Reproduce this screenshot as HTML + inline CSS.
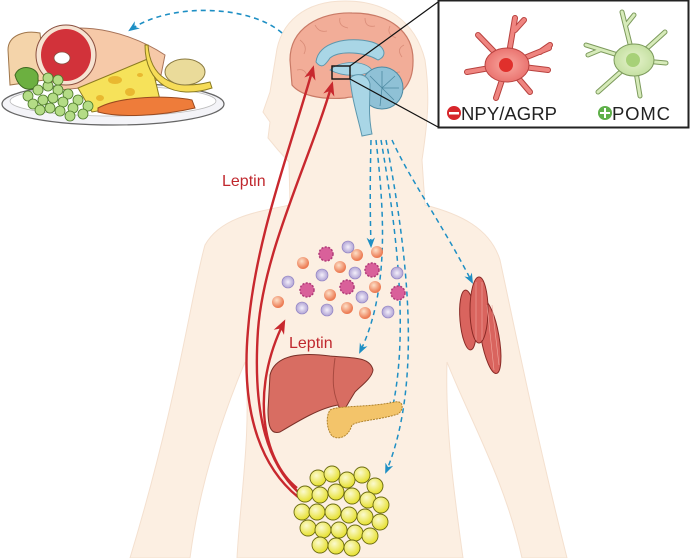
<!DOCTYPE html>
<html><head><meta charset="utf-8"><style>
html,body{margin:0;padding:0;background:#fff;}
svg{display:block;}
text{font-family:"Liberation Sans",Arial,sans-serif;}
</style></head><body>
<svg width="690" height="558" viewBox="0 0 690 558" xmlns="http://www.w3.org/2000/svg">
<defs>
<marker id="ab" viewBox="0 0 10 10" refX="8" refY="5" markerWidth="7" markerHeight="7" orient="auto"><path d="M0,1 L10,5 L0,9 L3,5 Z" fill="#1e8fc4"/></marker>
<marker id="ar" viewBox="0 0 10 10" refX="8" refY="5" markerWidth="6" markerHeight="6" orient="auto"><path d="M0,1 L10,5 L0,9 L3,5 Z" fill="#c8282e"/></marker>
<radialGradient id="og" cx="0.4" cy="0.35" r="0.6"><stop offset="0" stop-color="#fde0c8"/><stop offset="1" stop-color="#ec7a52"/></radialGradient>
<radialGradient id="pg" cx="0.5" cy="0.5" r="0.55"><stop offset="0" stop-color="#f4f0fb"/><stop offset="1" stop-color="#a99bd0"/></radialGradient>
<radialGradient id="yg" cx="0.4" cy="0.35" r="0.6"><stop offset="0" stop-color="#fbfad0"/><stop offset="1" stop-color="#e8e23a"/></radialGradient>
<radialGradient id="rn" cx="0.5" cy="0.5" r="0.5"><stop offset="0" stop-color="#f9a9a0"/><stop offset="1" stop-color="#ea7470"/></radialGradient>
<radialGradient id="gn" cx="0.5" cy="0.5" r="0.5"><stop offset="0" stop-color="#e6f3cc"/><stop offset="1" stop-color="#c5e0a2"/></radialGradient>
</defs>

<!-- body -->
<path d="M345 1 C305 1 280 22 276 55 L270 92 L263 112 L270 122 L268 138 L278 150 L289 162 L290 205
 C255 212 220 218 205 245 C192 290 178 400 130 558 L190 558 C200 480 225 410 245 362
 C252 430 240 500 237 558 L463 558 C455 500 445 430 447 362 C470 420 505 480 522 558 L567 558
 C535 430 515 330 500 260 C490 228 460 214 425 205 L422 160 C428 120 430 95 425 60 C415 20 385 1 345 1 Z"
 fill="#fcefe2" stroke="#f4e0cf" stroke-width="1"/>

<!-- brain -->
<path d="M290 60 C290 28 320 12 352 13 C390 13 414 32 413 62 C413 85 400 98 380 100 C365 100 355 95 345 98 C320 100 300 95 292 85 Z" fill="#f2ad98" stroke="#c97a66" stroke-width="1.2"/>
<g fill="none" stroke="#d98c78" stroke-width="0.8">
<path d="M300 40 q8 6 4 14 M315 25 q4 8 12 6 M340 18 q-2 8 8 10 M365 18 q0 10 10 8 M390 26 q-4 8 6 12 M404 45 q-8 4 -2 12 M297 70 q8 -2 10 6 M400 72 q-8 0 -8 8"/>
</g>
<path d="M316 62 C318 42 348 36 372 42 C385 46 388 56 378 60 C365 52 340 50 330 58 C326 64 322 70 316 62 Z" fill="#a9d6e6" stroke="#5d97ad" stroke-width="1"/>
<path d="M330 70 C340 60 365 60 372 70 C365 76 345 78 330 70 Z" fill="#a9d6e6" stroke="#5d97ad" stroke-width="0.8"/>
<circle cx="382" cy="88" r="21" fill="#8fc1d6" stroke="#4e8aa2" stroke-width="1"/>
<g stroke="#4e8aa2" stroke-width="0.8"><path d="M382 88 l-12 -12 M382 88 l0 -17 M382 88 l13 -12 M382 88 l17 0 M382 88 l12 12 M382 88 l-2 18"/></g>
<path d="M350 78 C356 72 368 74 370 84 C370 100 368 115 372 134 L362 136 C358 118 352 100 350 78 Z" fill="#a9d6e6" stroke="#5d97ad" stroke-width="1"/>
<rect x="332" y="66" width="18" height="13" fill="none" stroke="#111" stroke-width="1.4"/>
<line x1="350" y1="66" x2="438" y2="2" stroke="#111" stroke-width="1.2"/>
<line x1="350" y1="79" x2="438" y2="127" stroke="#111" stroke-width="1.2"/>

<!-- inset -->
<rect x="438.5" y="0.5" width="250" height="127" fill="#fff" stroke="#222" stroke-width="2"/>
<g stroke-linecap="round" fill="none">
<g stroke="#b8423f" stroke-width="6"><path d="M507 65 L478 35 M507 65 L515 18 M515 30 L524 20 M507 65 L549 48 M540 52 L550 45 M507 65 L548 70 M507 65 L467 72 M507 65 L496 98 M507 65 L530 92"/></g>
<g stroke="#ef8580" stroke-width="4"><path d="M507 65 L478 35 M507 65 L515 18 M515 30 L524 20 M507 65 L549 48 M540 52 L550 45 M507 65 L548 70 M507 65 L467 72 M507 65 L496 98 M507 65 L530 92"/></g>
<g stroke="#7c9a5c" stroke-width="5"><path d="M634 60 L622 12 M626 25 L634 15 M634 60 L665 32 M634 60 L666 63 M634 60 L586 45 M600 50 L588 55 M634 60 L598 92 M634 60 L640 96"/></g>
<g stroke="#d7ebba" stroke-width="3"><path d="M634 60 L622 12 M626 25 L634 15 M634 60 L665 32 M634 60 L666 63 M634 60 L586 45 M600 50 L588 55 M634 60 L598 92 M634 60 L640 96"/></g>
</g>
<ellipse cx="507" cy="65" rx="22" ry="17" fill="url(#rn)" stroke="#b8423f" stroke-width="1"/>
<circle cx="506" cy="65" r="7" fill="#e0302c"/>
<ellipse cx="634" cy="60" rx="20" ry="16" fill="url(#gn)" stroke="#7c9a5c" stroke-width="1"/>
<circle cx="633" cy="60" r="7" fill="#a7d178"/>
<circle cx="454" cy="113" r="7" fill="#d7262b"/><rect x="449" y="112" width="10" height="2.5" fill="#fff"/>
<text x="461" y="120" font-size="18.5" fill="#222" textLength="96">NPY/AGRP</text>
<circle cx="605" cy="113" r="7" fill="#5fb04a"/><path d="M600 113 h10 M605 108 v10" stroke="#fff" stroke-width="2"/>
<text x="612" y="120" font-size="18.5" fill="#222" textLength="58">POMC</text>

<!-- food -->
<ellipse cx="113" cy="104" rx="111" ry="21" fill="#f4f4f8" stroke="#666" stroke-width="1.2"/>
<ellipse cx="113" cy="101" rx="103" ry="15" fill="#fff" stroke="#bbb" stroke-width="0.8"/>
<path d="M8 50 C8 35 25 30 40 33 L45 80 L10 85 Z" fill="#f4d4aa" stroke="#a0764a" stroke-width="1"/>
<path d="M40 40 C60 20 120 25 165 55 L160 80 L60 90 Z" fill="#f6c9a8" stroke="#a8745a" stroke-width="1"/>
<ellipse cx="66" cy="55" rx="30" ry="30" fill="#f6e3d2" stroke="#8a5040" stroke-width="1"/>
<ellipse cx="66" cy="55" rx="25" ry="26" fill="#d2323a"/>
<ellipse cx="62" cy="58" rx="8" ry="6" fill="#fff" stroke="#8a5040" stroke-width="0.8"/>
<path d="M78 88 L150 58 L160 100 L92 112 Z" fill="#f6e25a" stroke="#8a7a20" stroke-width="1"/>
<g fill="#e9b830"><ellipse cx="115" cy="80" rx="7" ry="4"/><ellipse cx="130" cy="92" rx="5" ry="4"/><ellipse cx="100" cy="98" rx="4" ry="3"/><ellipse cx="140" cy="75" rx="3" ry="2"/></g>
<path d="M148 45 C150 75 170 92 210 82 L212 88 C175 100 145 85 145 45 Z" fill="#f6dc58" stroke="#8a7a20" stroke-width="1"/>
<ellipse cx="185" cy="72" rx="20" ry="13" fill="#eadb9a" stroke="#8a7a40" stroke-width="1"/>
<path d="M98 108 C120 96 170 95 192 100 L195 108 C160 116 120 118 98 112 Z" fill="#ee7c3a" stroke="#9a4a20" stroke-width="1"/>
<path d="M15 75 C20 62 40 68 38 78 C40 92 20 95 15 75 Z" fill="#6cb040" stroke="#3d6a20" stroke-width="1"/>
<g fill="#b4dc86" stroke="#4d7a2a" stroke-width="0.8">
<circle cx="28" cy="96" r="5"/><circle cx="38" cy="90" r="5"/><circle cx="48" cy="86" r="5"/><circle cx="58" cy="90" r="5"/><circle cx="68" cy="94" r="5"/><circle cx="78" cy="100" r="5"/><circle cx="88" cy="106" r="5"/>
<circle cx="33" cy="104" r="5"/><circle cx="43" cy="100" r="5"/><circle cx="53" cy="98" r="5"/><circle cx="63" cy="102" r="5"/><circle cx="73" cy="108" r="5"/><circle cx="83" cy="114" r="5"/>
<circle cx="40" cy="110" r="5"/><circle cx="50" cy="108" r="5"/><circle cx="60" cy="111" r="5"/><circle cx="70" cy="116" r="5"/><circle cx="48" cy="78" r="5"/><circle cx="58" cy="80" r="5"/>
</g>
<path d="M282 33 C250 5 170 2 130 30" fill="none" stroke="#1e8fc4" stroke-width="1.6" stroke-dasharray="5,4" marker-end="url(#ab)"/>

<!-- blue efferents -->
<g fill="none" stroke="#1e8fc4" stroke-width="1.5" stroke-dasharray="5,4" marker-end="url(#ab)">
<path d="M371 140 C370 180 370 210 371 246"/>
<path d="M376 140 C384 210 390 290 360 352"/>
<path d="M381 140 C395 220 410 330 392 410"/>
<path d="M386 140 C405 240 425 380 386 472"/>
<path d="M392 140 C410 180 440 220 472 282"/>
</g>

<!-- leptin red -->
<g fill="none" stroke="#c8282e" stroke-width="2.4">
<path d="M298 497 C265 470 240 420 248 330 C255 240 290 150 313 68" marker-end="url(#ar)"/>
<path d="M298 492 C270 465 252 420 258 330 C264 250 310 160 332 84" marker-end="url(#ar)"/>
<path d="M297 488 C262 460 250 390 284 322" marker-end="url(#ar)"/>
</g>
<text x="222" y="186" font-size="16" fill="#c0282e">Leptin</text>
<text x="289" y="348" font-size="16" fill="#c0282e">Leptin</text>

<!-- blood cells -->
<g fill="url(#og)">
<circle cx="303" cy="263" r="6"/><circle cx="340" cy="267" r="6"/><circle cx="357" cy="255" r="6"/><circle cx="377" cy="252" r="6"/><circle cx="330" cy="295" r="6"/><circle cx="375" cy="287" r="6"/><circle cx="278" cy="302" r="6"/><circle cx="347" cy="308" r="6"/><circle cx="365" cy="313" r="6"/>
</g>
<g fill="url(#pg)" stroke="#8a7cc0" stroke-width="0.6">
<circle cx="288" cy="282" r="6"/><circle cx="322" cy="275" r="6"/><circle cx="355" cy="273" r="6"/><circle cx="397" cy="273" r="6"/><circle cx="362" cy="297" r="6"/><circle cx="302" cy="308" r="6"/><circle cx="327" cy="310" r="6"/><circle cx="388" cy="312" r="6"/><circle cx="348" cy="247" r="6"/>
</g>
<g fill="#d9609a" stroke="#b03a78" stroke-width="1.5" stroke-dasharray="2,1.5">
<circle cx="326" cy="254" r="7"/><circle cx="372" cy="270" r="7"/><circle cx="307" cy="290" r="7"/><circle cx="347" cy="287" r="7"/><circle cx="398" cy="293" r="7"/>
</g>

<!-- liver -->
<path d="M270 375 C275 355 300 352 330 356 C350 358 370 356 373 370 C372 378 362 385 355 392 C350 400 345 408 342 415 L338 405 C320 408 300 420 280 432 C270 435 268 425 268 410 Z" fill="#d86d62" stroke="#7a3028" stroke-width="1"/>
<path d="M335 358 C332 380 332 395 342 412" fill="none" stroke="#a84a40" stroke-width="1"/>
<path d="M330 410 C340 405 365 408 395 402 C404 400 404 410 398 414 C380 420 360 420 352 425 C348 438 338 440 332 436 C326 428 326 416 330 410 Z" fill="#f3c46a" stroke="#b0822a" stroke-width="1" stroke-dasharray="2,1"/>

<!-- muscle -->
<g fill="#d9645e" stroke="#8a2a26" stroke-width="1">
<ellipse cx="468" cy="320" rx="8" ry="30" transform="rotate(-5 468 320)"/>
<ellipse cx="490" cy="337" rx="9" ry="37" transform="rotate(-10 490 337)"/>
<ellipse cx="479" cy="310" rx="9" ry="33"/>
</g>
<g stroke="#f0a8a0" stroke-width="0.6"><path d="M476 282 L476 340 M482 282 L482 340 M487 305 L494 370 M492 305 L499 365"/></g>

<!-- fat -->
<g fill="url(#yg)" stroke="#6a6a10" stroke-width="0.9">
<circle cx="318" cy="478" r="8"/><circle cx="332" cy="474" r="8"/><circle cx="347" cy="480" r="8"/><circle cx="362" cy="475" r="8"/><circle cx="375" cy="486" r="8"/>
<circle cx="305" cy="494" r="8"/><circle cx="320" cy="495" r="8"/><circle cx="336" cy="492" r="8"/><circle cx="352" cy="496" r="8"/><circle cx="368" cy="500" r="8"/><circle cx="381" cy="505" r="8"/>
<circle cx="302" cy="512" r="8"/><circle cx="317" cy="512" r="8"/><circle cx="333" cy="512" r="8"/><circle cx="349" cy="515" r="8"/><circle cx="365" cy="517" r="8"/><circle cx="380" cy="522" r="8"/>
<circle cx="308" cy="528" r="8"/><circle cx="323" cy="530" r="8"/><circle cx="339" cy="530" r="8"/><circle cx="355" cy="533" r="8"/><circle cx="370" cy="536" r="8"/>
<circle cx="320" cy="545" r="8"/><circle cx="336" cy="546" r="8"/><circle cx="352" cy="548" r="8"/>
</g>
</svg>
</body></html>
